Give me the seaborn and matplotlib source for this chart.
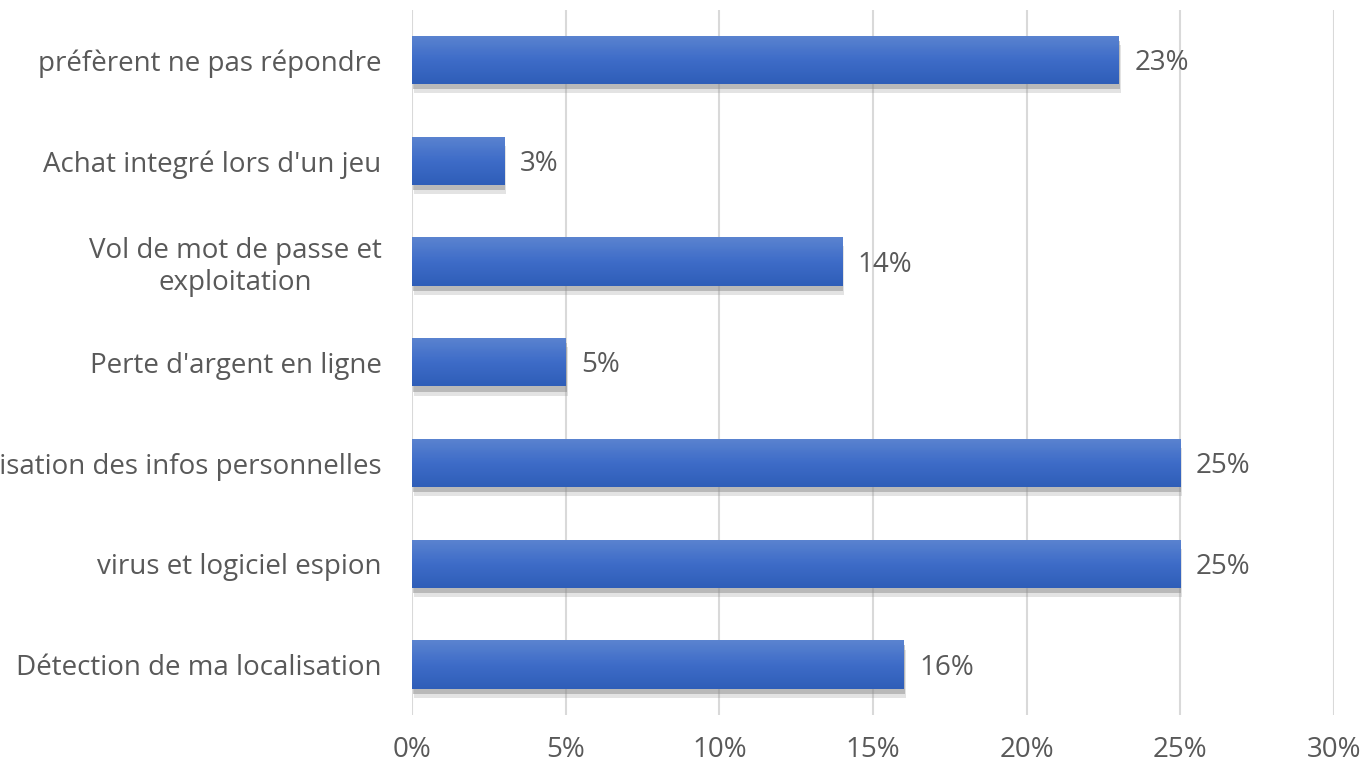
import seaborn as sns
import matplotlib.pyplot as plt
import matplotlib.patches as mpatches
from matplotlib.colors import LinearSegmentedColormap
import numpy as np
import pandas as pd

# data, top to bottom as in the chart
categories = [
    "préfèrent ne pas répondre",
    "Achat integré lors d'un jeu",
    "Vol de mot de passe et\nexploitation",
    "Perte d'argent en ligne",
    "Utilisation des infos personnelles",
    "virus et logiciel espion",
    "Détection de ma localisation",
]
values = [23, 3, 14, 5, 25, 25, 16]
xticks = [0, 5, 10, 15, 20, 25, 30]
tick_labels = [f"{t}%" for t in xticks]

df = pd.DataFrame({"cat": categories, "val": values})

sns.set_style("white")
plt.rcParams['font.family'] = ['Open Sans', 'DejaVu Sans']
TXT = '#595959'

fig = plt.figure(figsize=(13.66, 7.68), dpi=100)
ax = fig.add_axes([0.3016, 0.069, 0.675, 0.9185])

sns.barplot(data=df, x="val", y="cat", color='#4472c4', width=0.48,
            ax=ax, zorder=3)

# gradient fill + soft shadow on each bar
grad = np.linspace(0, 1, 64).reshape(-1, 1)
cmap = LinearSegmentedColormap.from_list('g', ['#5b84d0', '#3e6cc8', '#2f5eb8'])
for p in ax.patches:
    x0, y0 = p.get_x(), p.get_y()
    w, h = p.get_width(), p.get_height()
    for k, a in [(0.09, 0.25), (0.05, 0.5)]:
        shadow = mpatches.Rectangle((x0 + k * 0.7, y0 + k), w, h, color='#909090',
                                    alpha=a, zorder=2, lw=0)
        ax.add_patch(shadow)
    p.set_facecolor('none')
    p.set_edgecolor('none')
    im = ax.imshow(grad, cmap=cmap, aspect='auto', zorder=3,
                   extent=(x0, x0 + w, y0 + h, y0), origin='upper')
    im.set_clip_path(p)

for i, v in enumerate(values):
    ax.text(v + 0.5, i + 0.03, f"{v}%", va='center', ha='left', fontsize=20, color=TXT)

ax.set_xlim(0, 30)
ax.set_ylim(len(values) - 0.5, -0.5)
ax.set_xticks(xticks)
ax.set_xticklabels(tick_labels)
ax.xaxis.grid(True, color='#d9d9d9', lw=1.5, zorder=0)
ax.set_axisbelow(True)
for s in ax.spines.values():
    s.set_visible(False)
ax.tick_params(axis='both', length=0, labelsize=20, colors=TXT)
ax.tick_params(axis='x', pad=15)
ax.tick_params(axis='y', pad=22)
for lbl in ax.get_yticklabels():
    lbl.set_multialignment('center')
ax.set_xlabel('')
ax.set_ylabel('')

fig.savefig('out.png', dpi=100)
